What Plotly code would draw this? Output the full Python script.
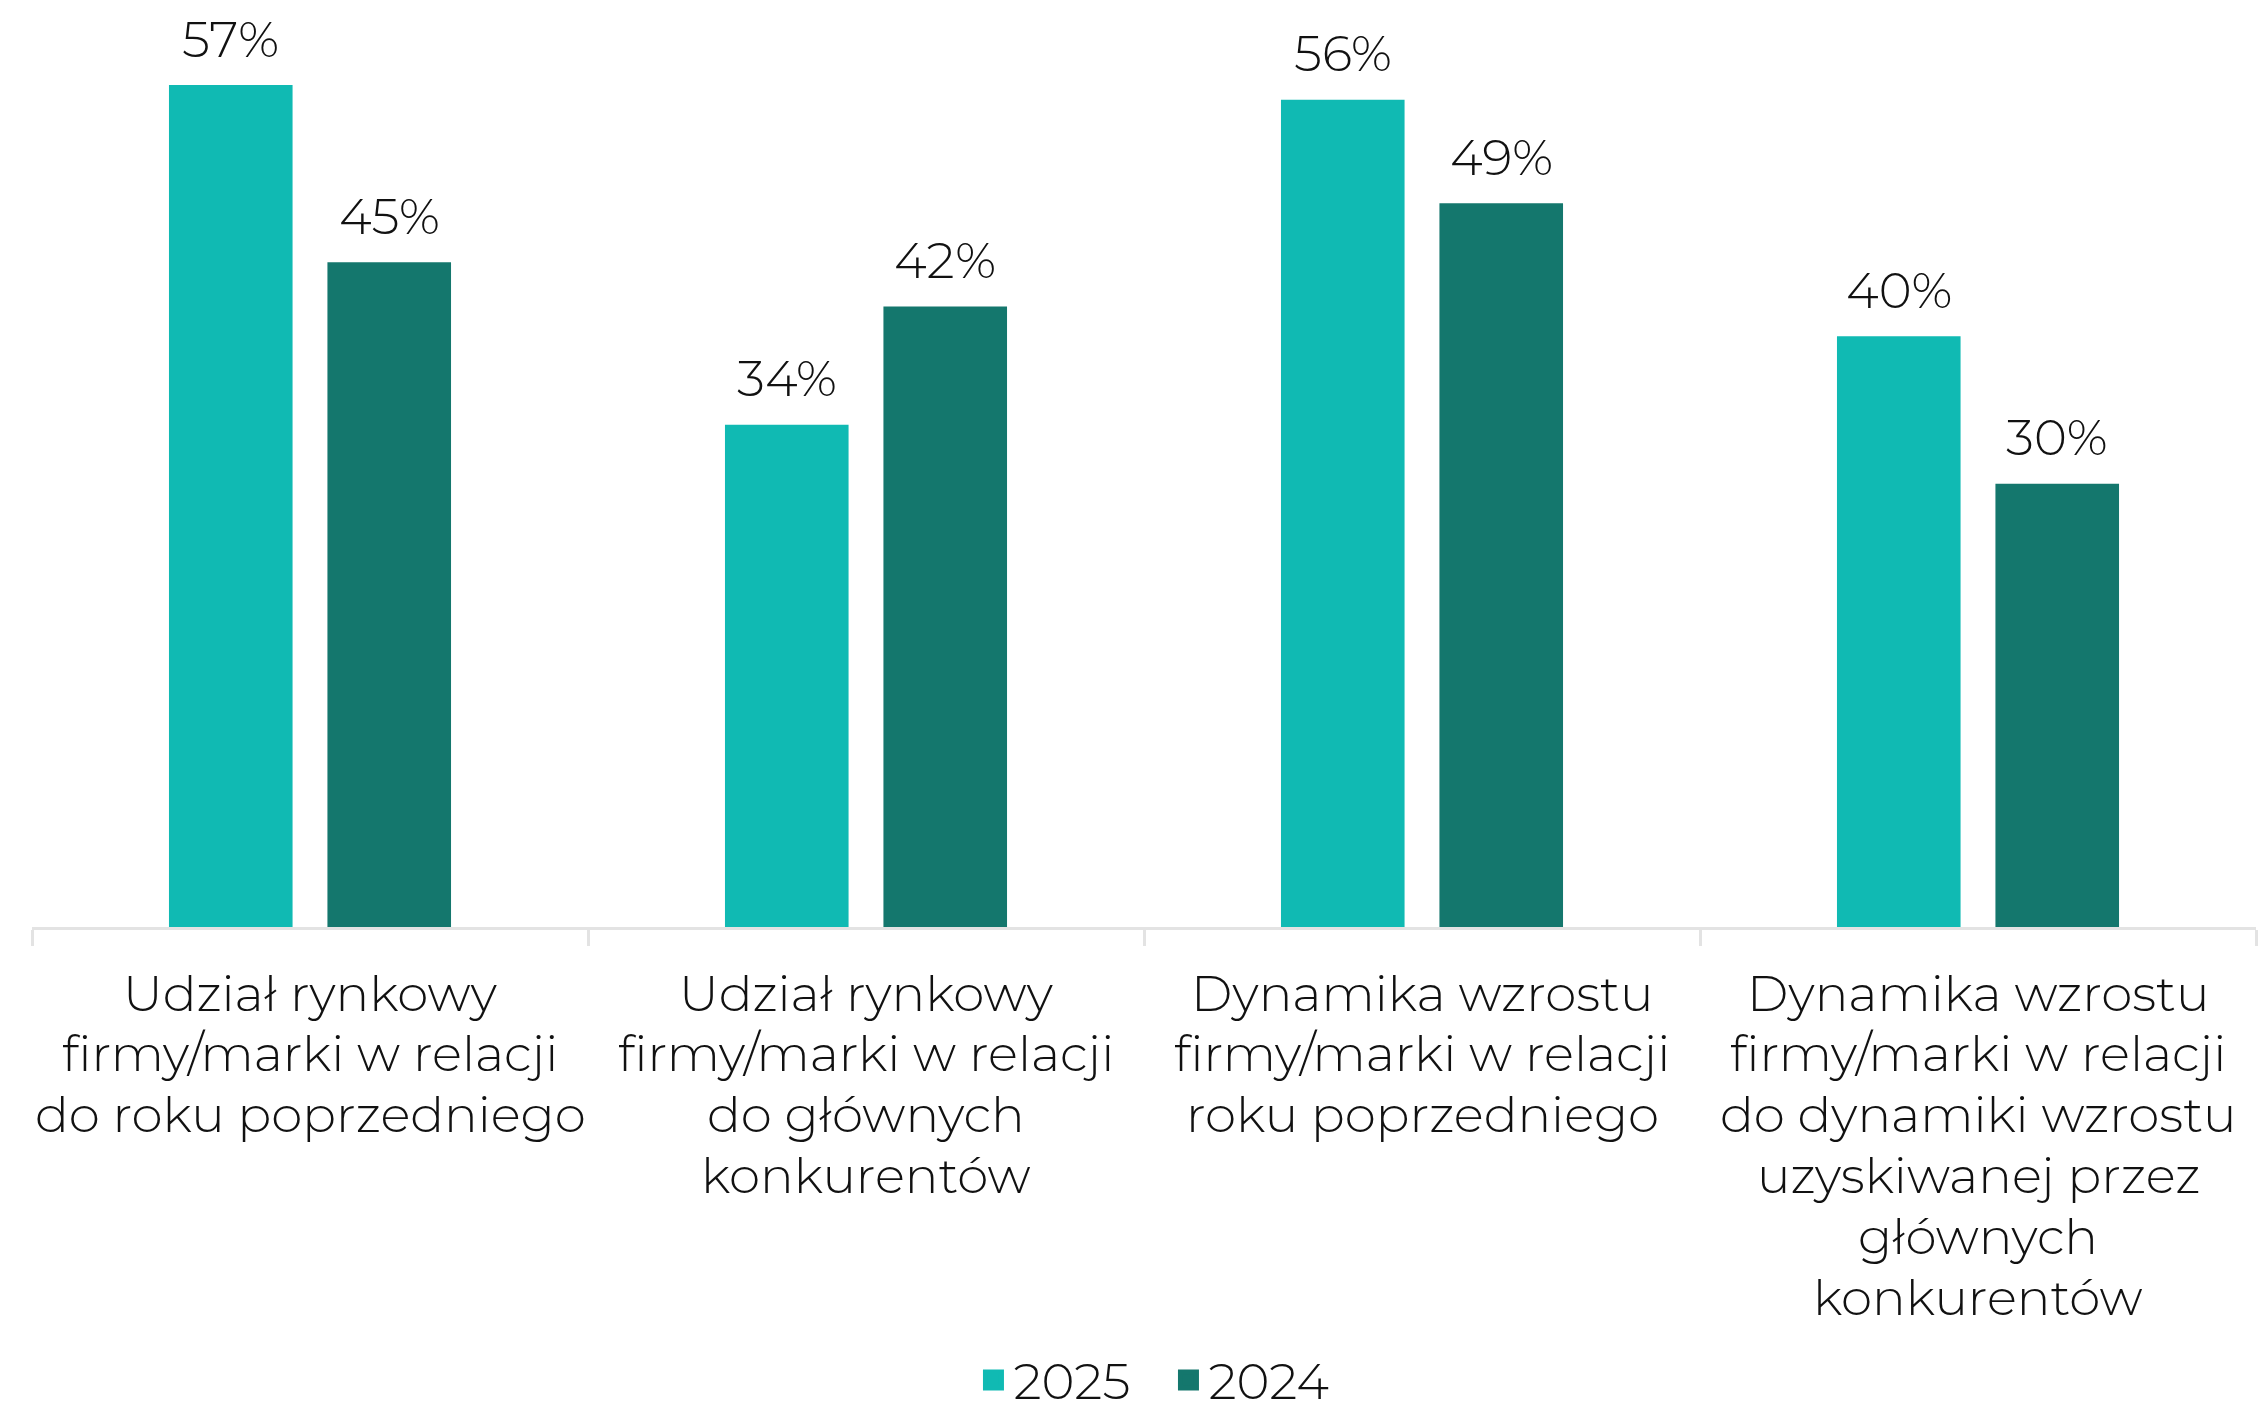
import plotly.graph_objects as go

# Survey categories; each line of a category label is given separately
category_lines = [
    ["Udział rynkowy", "firmy/marki w relacji", "do roku poprzedniego"],
    ["Udział rynkowy", "firmy/marki w relacji", "do głównych", "konkurentów"],
    ["Dynamika wzrostu", "firmy/marki w relacji", "roku poprzedniego"],
    ["Dynamika wzrostu", "firmy/marki w relacji", "do dynamiki wzrostu",
     "uzyskiwanej przez", "głównych", "konkurentów"],
]
categories = [" ".join(lines) for lines in category_lines]
values_2025 = [57, 34, 56, 40]
values_2024 = [45, 42, 49, 30]
series_names = ["2025", "2024"]

COLOR_2025 = "#10BAB3"
COLOR_2024 = "#14776D"
AXIS_GRAY = "#E3E3E3"
TEXT_COLOR = "#111111"
FONT = "Montserrat, Lato, Open Sans, sans-serif"
FONT_SIZE = 50

WIDTH, HEIGHT = 2264, 1408
MARGIN = dict(l=32, r=8, t=10, b=481, autoexpand=False)
BARGAP = 0.43
BARGROUPGAP = 0.22
LABEL_FIRST_LINE = 66    # px below the axis line
LABEL_LINE_STEP = 60.8   # px between label lines

fig = go.Figure()

series = [
    (series_names[0], values_2025, COLOR_2025),
    (series_names[1], values_2024, COLOR_2024),
]

for name, vals, color in series:
    fig.add_trace(go.Bar(
        x=categories,
        y=vals,
        name=name,
        marker=dict(color=color, line=dict(width=0)),
        showlegend=False,
    ))
    # legend entry with a larger square swatch
    fig.add_trace(go.Scatter(
        x=[None], y=[None], mode="markers", name=name,
        marker=dict(symbol="square", size=16, color=color,
                    line=dict(width=5, color=color)),
        showlegend=True,
    ))

# value labels above each bar, offset to the bar's slot within its group
plot_w = WIDTH - MARGIN["l"] - MARGIN["r"]
slot_w = plot_w / len(categories) * (1 - BARGAP) / len(series)
for j, (name, vals, color) in enumerate(series):
    shift = (j - (len(series) - 1) / 2) * slot_w
    for cat, v in zip(categories, vals):
        fig.add_annotation(
            x=cat, y=v, xref="x", yref="y",
            text=f"{v}%",
            showarrow=False,
            xshift=shift,
            yshift=46,
            yanchor="middle",
            font=dict(family=FONT, size=FONT_SIZE, color=TEXT_COLOR, weight=300),
        )

# category labels under the axis, one annotation per line for tight leading
for cat, lines in zip(categories, category_lines):
    for i, line in enumerate(lines):
        fig.add_annotation(
            x=cat, y=0, xref="x", yref="paper",
            text=line,
            showarrow=False,
            yanchor="middle",
            yshift=-(LABEL_FIRST_LINE + i * LABEL_LINE_STEP),
            font=dict(family=FONT, size=FONT_SIZE, color=TEXT_COLOR, weight=300),
        )

fig.update_layout(
    width=WIDTH,
    height=HEIGHT,
    margin=MARGIN,
    paper_bgcolor="white",
    plot_bgcolor="white",
    barmode="group",
    bargap=BARGAP,
    bargroupgap=BARGROUPGAP,
    font=dict(family=FONT, size=FONT_SIZE, color=TEXT_COLOR, weight=300),
    showlegend=True,
    legend=dict(
        orientation="h",
        x=0.511, xanchor="center",
        y=-0.494, yanchor="middle",
        font=dict(family=FONT, size=FONT_SIZE, color=TEXT_COLOR, weight=300),
        itemwidth=30,
        entrywidth=150,
        entrywidthmode="pixels",
        tracegroupgap=0,
    ),
    xaxis=dict(
        type="category",
        automargin=False,
        showticklabels=False,
        showline=True,
        linecolor=AXIS_GRAY,
        linewidth=3,
        ticks="outside",
        tickson="boundaries",
        ticklen=16,
        tickwidth=3,
        tickcolor=AXIS_GRAY,
        showgrid=False,
    ),
    yaxis=dict(
        range=[0, 62.08],
        visible=False,
        showgrid=False,
        zeroline=False,
    ),
)

fig.write_html("out.html")
